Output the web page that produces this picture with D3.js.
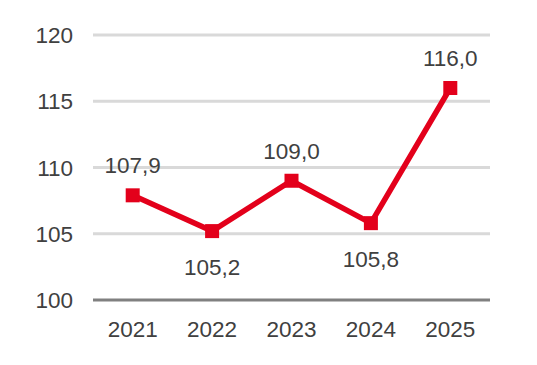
<!DOCTYPE html>
<html>
<head>
<meta charset="utf-8">
<script src="https://cdn.jsdelivr.net/npm/d3@7"></script>
<style>
  body { margin: 0; background: #fff; }
  text { font-family: "Liberation Sans", Arial, sans-serif; fill: #404040; }
</style>
</head>
<body>
<div id="chart"></div>
<script>
// data
var years = ["2021", "2022", "2023", "2024", "2025"];
var values = [107.9, 105.2, 109.0, 105.8, 116.0];
var labelPos = ["above", "below", "above", "below", "above"];
var yTicks = [100, 105, 110, 115, 120];

var width = 537, height = 365;
var margin = {top: 35, right: 47, bottom: 65, left: 93};
var innerW = width - margin.left - margin.right,
    innerH = height - margin.top - margin.bottom;

var svg = d3.select("#chart")
  .append("svg")
    .attr("width", width)
    .attr("height", height)
  .append("g")
    .attr("transform", "translate(" + margin.left + "," + margin.top + ")");

var x = d3.scaleBand()
    .domain(years)
    .range([0, innerW]);

var y = d3.scaleLinear()
    .domain([100, 120])
    .range([innerH, 0]);

// gridlines (100 is the darker base line)
svg.selectAll(".grid")
  .data(yTicks)
  .enter()
  .append("line")
    .attr("x1", 0)
    .attr("x2", innerW)
    .attr("y1", function(d) { return y(d); })
    .attr("y2", function(d) { return y(d); })
    .attr("stroke", function(d) { return d === 100 ? "#808080" : "#d9d9d9"; })
    .attr("stroke-width", 3);

// y labels
svg.selectAll(".ylab")
  .data(yTicks)
  .enter()
  .append("text")
    .attr("x", -20)
    .attr("y", function(d) { return y(d); })
    .attr("dy", "0.36em")
    .attr("text-anchor", "end")
    .style("font-size", "22.5px")
    .text(function(d) { return d; });

// x labels
svg.selectAll(".xlab")
  .data(years)
  .enter()
  .append("text")
    .attr("x", function(d) { return x(d) + x.bandwidth() / 2; })
    .attr("y", innerH + 37)
    .attr("text-anchor", "middle")
    .style("font-size", "22.5px")
    .text(function(d) { return d; });

var pts = years.map(function(d, i) { return {year: d, value: values[i], pos: labelPos[i]}; });

var line = d3.line()
    .x(function(d) { return x(d.year) + x.bandwidth() / 2; })
    .y(function(d) { return y(d.value); });

svg.append("path")
    .datum(pts)
    .attr("d", line)
    .attr("fill", "none")
    .attr("stroke", "#e3001b")
    .attr("stroke-width", 5.5)
    .attr("stroke-linejoin", "miter");

var ms = 14;
svg.selectAll(".marker")
  .data(pts)
  .enter()
  .append("rect")
    .attr("x", function(d) { return x(d.year) + x.bandwidth() / 2 - ms / 2; })
    .attr("y", function(d) { return y(d.value) - ms / 2; })
    .attr("width", ms)
    .attr("height", ms)
    .attr("fill", "#e3001b");

var fmt = function(v) { return v.toFixed(1).replace(".", ","); };

// value labels
svg.selectAll(".vlab")
  .data(pts)
  .enter()
  .append("text")
    .attr("x", function(d) { return x(d.year) + x.bandwidth() / 2; })
    .attr("y", function(d) { return y(d.value) + (d.pos === "above" ? -30 : 36); })
    .attr("dy", "0.36em")
    .attr("text-anchor", "middle")
    .style("font-size", "22.5px")
    .text(function(d) { return fmt(d.value); });
</script>
</body>
</html>
